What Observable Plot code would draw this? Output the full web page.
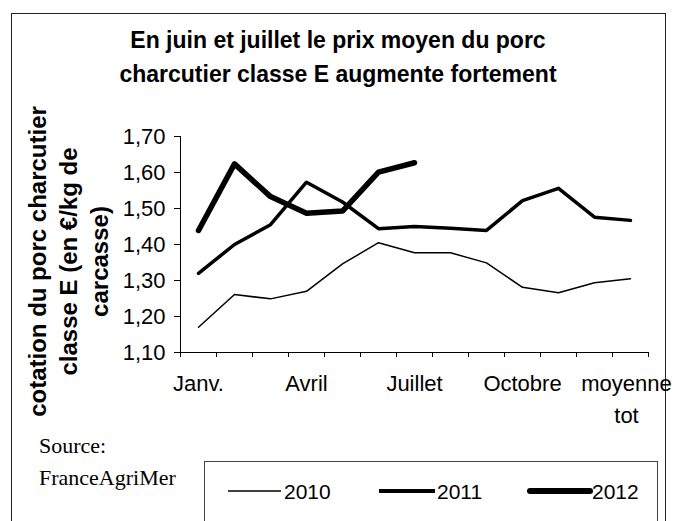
<!DOCTYPE html>
<html>
<head>
<meta charset="utf-8">
<script src="https://cdn.jsdelivr.net/npm/d3@7"></script>
<script src="https://cdn.jsdelivr.net/npm/@observablehq/plot@0.6"></script>
<style>
  html, body { margin: 0; padding: 0; background: #fff; }
  #wrap { position: relative; width: 674px; height: 521px; overflow: hidden; background: #fff; }
  #frame { position: absolute; left: 11px; top: 13px; width: 655px; height: 540px; border: 1.5px solid #222; box-sizing: border-box; }
  #title { position: absolute; left: 0; top: 23px; width: 676px; text-align: center; font: bold 23px Arial, "Liberation Sans", sans-serif; line-height: 34px; color: #000; }
  #ylabel { position: absolute; width: 360px; height: 93px; left: -112px; top: 215px; transform: rotate(-90deg); transform-origin: 50% 50%; text-align: center; font: bold 24px Arial, "Liberation Sans", sans-serif; line-height: 31px; white-space: pre; color: #000; }
  #source { position: absolute; left: 39px; top: 430px; font: 22px "Liberation Serif", "Times New Roman", serif; line-height: 32px; color: #000; }
  #legend { position: absolute; left: 204px; top: 461px; width: 454px; height: 80px; border: 1px solid #444; box-sizing: border-box; }
  #plot { position: absolute; left: 0; top: 0; }
</style>
</head>
<body>
<div id="wrap">
  <div id="frame"></div>
  <div id="plot"></div>
  <div id="title"></div>
  <div id="ylabel"></div>
  <div id="source"></div>
  <div id="legend"></div>
</div>
<script>
// ---- data ----
const months = ["Janv.", "Févr.", "Mars", "Avril", "Mai", "Juin", "Juillet", "Août", "Sept.", "Octobre", "Nov.", "Déc.", "moyenne tot"];
const tickLabels = ["Janv.", "Avril", "Juillet", "Octobre", "moyenne\ntot"];
const tickLabelIndex = [0, 3, 6, 9, 12];
const years = ["2010", "2011", "2012"];
const v2010 = [1.170, 1.261, 1.249, 1.270, 1.346, 1.405, 1.377, 1.377, 1.349, 1.281, 1.266, 1.294, 1.305];
const v2011 = [1.320, 1.400, 1.455, 1.573, 1.518, 1.444, 1.450, 1.445, 1.439, 1.522, 1.556, 1.476, 1.467];
const v2012 = [1.439, 1.624, 1.533, 1.487, 1.493, 1.601, 1.627];
const yTicks = [1.10, 1.20, 1.30, 1.40, 1.50, 1.60, 1.70];
const titleText = "En juin et juillet le prix moyen du porc\ncharcutier classe E augmente fortement";
const yLabelText = "cotation du porc charcutier\nclasse E (en €/kg de\ncarcasse)";
const sourceText = "Source:\nFranceAgriMer";
const lineWidths = [1.5, 3.5, 5.5];

// ---- build ----
const series = [v2010, v2011, v2012];
const rows = series.map((vals, k) => vals.map((v, i) => ({year: years[k], i, v})));
const labels = tickLabelIndex.map((i, k) => ({i, text: tickLabels[k]}));
const labelsMain = labels.slice(0, 4);
const labelsLast = labels.slice(4);
const fmt = d => d.toFixed(2).replace(".", ",");

const chart = Plot.plot({
  width: 674,
  height: 521,
  marginLeft: 180,
  marginRight: 26,
  marginTop: 136,
  marginBottom: 169,
  x: {domain: [0, months.length], axis: null},
  y: {domain: [1.1, 1.7], axis: null},
  style: {fontFamily: "Arial, 'Liberation Sans', sans-serif", fontSize: "22px", background: "transparent", overflow: "visible", color: "#000"},
  marks: [
    Plot.axisY({ticks: yTicks, tickSize: 6, tickPadding: 9, tickFormat: fmt, fontSize: 22, label: null, stroke: "#000", strokeOpacity: 1}),
    Plot.axisX({ticks: d3.range(months.length + 1), tickSize: 5, tickFormat: () => "", label: null, stroke: "#000", strokeOpacity: 1}),
    Plot.ruleX([0], {y1: 1.1, y2: 1.7, stroke: "#000"}),
    Plot.ruleY([1.1], {x1: 0, x2: months.length, stroke: "#000"}),
    Plot.text(labelsMain, {x: d => d.i + 0.5, y: 1.1, text: "text", dy: 16, lineAnchor: "top", lineHeight: 1.45, fontSize: 22, fill: "#000"}),
    Plot.text(labelsLast, {x: d => d.i + 0.5, y: 1.1, text: "text", dy: 16, dx: -4, lineAnchor: "top", lineHeight: 1.45, fontSize: 22, fill: "#000"}),
    ...rows.map((r, k) => Plot.line(r, {x: d => d.i + 0.5, y: "v", stroke: "#000", strokeWidth: lineWidths[k], strokeLinejoin: "round", strokeLinecap: "round"}))
  ]
});
document.getElementById("plot").appendChild(chart);

document.getElementById("title").innerHTML = titleText.split("\n").join("<br>");
document.getElementById("ylabel").textContent = yLabelText;
document.getElementById("source").innerHTML = sourceText.split("\n").join("<br>");

// legend
const legendPos = [{x1: 24, x2: 77, tx: 80}, {x1: 175, x2: 231, tx: 233}, {x1: 326, x2: 386, tx: 388}];
const svgNS = "http://www.w3.org/2000/svg";
const lsvg = document.createElementNS(svgNS, "svg");
lsvg.setAttribute("width", 454);
lsvg.setAttribute("height", 80);
lsvg.style.position = "absolute";
lsvg.style.left = "-1px";
lsvg.style.top = "-1px";
years.forEach((yr, k) => {
  const p = legendPos[k];
  const ln = document.createElementNS(svgNS, "line");
  ln.setAttribute("x1", p.x1); ln.setAttribute("x2", p.x2);
  ln.setAttribute("y1", 30); ln.setAttribute("y2", 30);
  ln.setAttribute("stroke", "#000");
  ln.setAttribute("stroke-width", [1.5, 4, 6][k]);
  ln.setAttribute("stroke-linecap", k === 2 ? "round" : "butt");
  lsvg.appendChild(ln);
  const t = document.createElementNS(svgNS, "text");
  t.setAttribute("x", p.tx); t.setAttribute("y", 38);
  t.setAttribute("font-family", "Arial, 'Liberation Sans', sans-serif");
  t.setAttribute("font-size", 21);
  t.textContent = yr;
  lsvg.appendChild(t);
});
document.getElementById("legend").appendChild(lsvg);
</script>
</body>
</html>
